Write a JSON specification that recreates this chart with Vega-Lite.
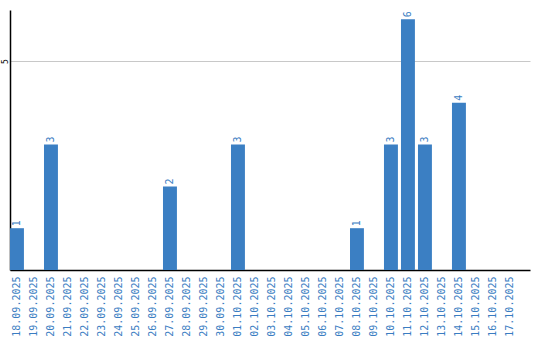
{
  "$schema": "https://vega.github.io/schema/vega-lite/v6.json",
  "width": 520,
  "height": 260,
  "autosize": "none",
  "padding": {"left": 10, "top": 10, "right": 10, "bottom": 70},
  "background": "white",
  "config": {"view": {"stroke": null}},
  "data": {"values": [
    {"date": "18.09.2025", "count": 1},
    {"date": "19.09.2025", "count": 0},
    {"date": "20.09.2025", "count": 3},
    {"date": "21.09.2025", "count": 0},
    {"date": "22.09.2025", "count": 0},
    {"date": "23.09.2025", "count": 0},
    {"date": "24.09.2025", "count": 0},
    {"date": "25.09.2025", "count": 0},
    {"date": "26.09.2025", "count": 0},
    {"date": "27.09.2025", "count": 2},
    {"date": "28.09.2025", "count": 0},
    {"date": "29.09.2025", "count": 0},
    {"date": "30.09.2025", "count": 0},
    {"date": "01.10.2025", "count": 3},
    {"date": "02.10.2025", "count": 0},
    {"date": "03.10.2025", "count": 0},
    {"date": "04.10.2025", "count": 0},
    {"date": "05.10.2025", "count": 0},
    {"date": "06.10.2025", "count": 0},
    {"date": "07.10.2025", "count": 0},
    {"date": "08.10.2025", "count": 1},
    {"date": "09.10.2025", "count": 0},
    {"date": "10.10.2025", "count": 3},
    {"date": "11.10.2025", "count": 6},
    {"date": "12.10.2025", "count": 3},
    {"date": "13.10.2025", "count": 0},
    {"date": "14.10.2025", "count": 4},
    {"date": "15.10.2025", "count": 0},
    {"date": "16.10.2025", "count": 0},
    {"date": "17.10.2025", "count": 0}
  ]},
  "encoding": {
    "x": {
      "field": "date", "type": "nominal", "sort": null,
      "scale": {"paddingInner": 0.18, "paddingOuter": 0.385, "align": 0},
      "axis": {
        "title": null, "labelAngle": -90, "labelAlign": "right", "labelBaseline": "middle",
        "labelColor": "#3a7dc2", "labelFont": "DejaVu Sans Mono", "labelFontSize": 10,
        "ticks": false, "domainColor": "#000", "domainWidth": 1.5, "labelPadding": 6, "grid": false
      }
    },
    "y": {
      "field": "count", "type": "quantitative",
      "scale": {"domain": [0, 6.22], "nice": false},
      "axis": {
        "title": null, "values": [5], "ticks": false, "labelAngle": -90, "labelAlign": "center",
        "labelBaseline": "bottom", "labelColor": "#000", "labelFont": "DejaVu Sans Mono", "labelFontSize": 8,
        "labelPadding": 1, "domainColor": "#000", "domainWidth": 1.5, "gridColor": "#c8c8c8", "gridWidth": 1
      }
    }
  },
  "layer": [
    {"mark": {"type": "bar", "color": "#3b7fc3"}},
    {
      "transform": [{"filter": "datum.count > 0"}],
      "mark": {"type": "text", "angle": -90, "align": "left", "baseline": "middle", "dx": 2,
               "color": "#3a7dc2", "font": "DejaVu Sans Mono", "fontSize": 10},
      "encoding": {"text": {"field": "count", "type": "quantitative"}}
    }
  ]
}
